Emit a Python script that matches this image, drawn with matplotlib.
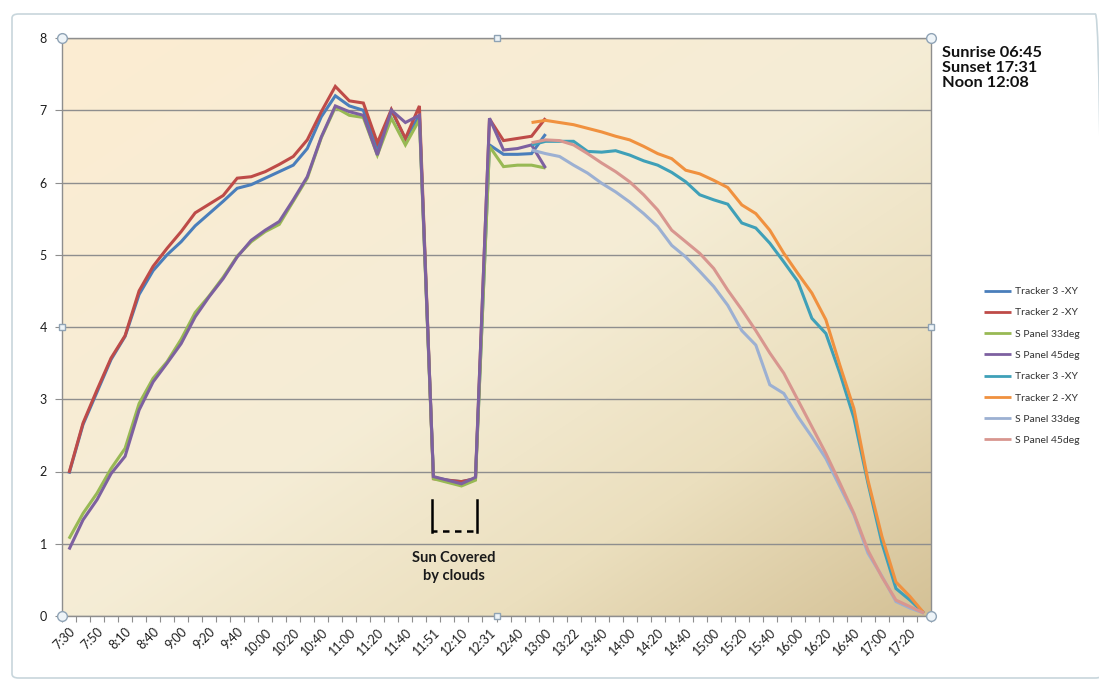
import numpy as np
import matplotlib
matplotlib.use("Agg")
import matplotlib.pyplot as plt
from matplotlib.patches import FancyBboxPatch

plt.rcParams['font.family'] = ['Lato', 'DejaVu Sans']

# Sample times (one column per reading)
times = ["7:30", "7:40", "7:50", "8:00", "8:10", "8:30", "8:40", "8:50", "9:00", "9:10",
         "9:20", "9:30", "9:40", "9:50", "10:00", "10:10", "10:20", "10:30", "10:40", "10:50",
         "11:00", "11:10", "11:20", "11:30", "11:40", "11:45", "11:51", "12:00", "12:10", "12:20",
         "12:31", "12:35", "12:40", "12:50", "13:00", "13:10", "13:22", "13:30", "13:40", "13:50",
         "14:00", "14:10", "14:20", "14:30", "14:40", "14:50", "15:00", "15:10", "15:20", "15:30",
         "15:40", "15:50", "16:00", "16:10", "16:20", "16:30", "16:40", "16:50", "17:00", "17:10",
         "17:20", "17:30"]

# Morning run (7:30 - 13:00)
tracker3_am = [1.97, 2.65, 3.10, 3.55, 3.87, 4.45, 4.78, 5.00, 5.18, 5.40,
               5.57, 5.74, 5.92, 5.97, 6.06, 6.15, 6.24, 6.47, 6.91, 7.20,
               7.06, 7.00, 6.45, 7.00, 6.60, 6.93, 1.92, 1.88, 1.86, 1.90,
               6.52, 6.39, 6.39, 6.40, 6.67]
tracker2_am = [1.98, 2.67, 3.13, 3.57, 3.88, 4.50, 4.84, 5.09, 5.32, 5.58,
               5.70, 5.82, 6.06, 6.08, 6.15, 6.25, 6.36, 6.59, 6.98, 7.33,
               7.13, 7.10, 6.55, 7.01, 6.61, 7.06, 1.90, 1.88, 1.86, 1.90,
               6.88, 6.58, 6.61, 6.64, 6.89]
panel33_am = [1.07, 1.42, 1.70, 2.04, 2.32, 2.94, 3.29, 3.52, 3.83, 4.20,
              4.43, 4.69, 4.98, 5.18, 5.32, 5.42, 5.74, 6.06, 6.62, 7.04,
              6.93, 6.90, 6.38, 6.89, 6.52, 6.87, 1.90, 1.85, 1.80, 1.88,
              6.50, 6.22, 6.24, 6.24, 6.20]
panel45_am = [0.92, 1.33, 1.61, 1.97, 2.21, 2.85, 3.24, 3.50, 3.77, 4.14,
              4.42, 4.67, 4.97, 5.20, 5.34, 5.46, 5.76, 6.08, 6.63, 7.06,
              6.98, 6.93, 6.38, 7.00, 6.83, 6.93, 1.93, 1.88, 1.83, 1.92,
              6.89, 6.45, 6.47, 6.52, 6.20]

# Afternoon run (12:50 - 17:30)
tracker3_pm = [6.52, 6.57, 6.57, 6.57, 6.43, 6.42, 6.44, 6.38, 6.30, 6.24,
               6.14, 6.01, 5.83, 5.76, 5.70, 5.44, 5.37, 5.16, 4.90, 4.63,
               4.12, 3.91, 3.36, 2.74, 1.84, 1.01, 0.38, 0.22, 0.04]
tracker2_pm = [6.83, 6.86, 6.83, 6.80, 6.75, 6.70, 6.64, 6.59, 6.50, 6.40,
               6.33, 6.17, 6.12, 6.03, 5.93, 5.69, 5.57, 5.34, 5.02, 4.74,
               4.47, 4.10, 3.47, 2.87, 1.88, 1.10, 0.47, 0.27, 0.04]
panel33_pm = [6.45, 6.40, 6.36, 6.24, 6.13, 5.99, 5.87, 5.73, 5.57, 5.39,
              5.13, 4.97, 4.77, 4.56, 4.30, 3.95, 3.75, 3.20, 3.08, 2.76,
              2.48, 2.18, 1.79, 1.40, 0.87, 0.55, 0.20, 0.11, 0.04]
panel45_pm = [6.55, 6.59, 6.58, 6.52, 6.40, 6.27, 6.15, 6.01, 5.83, 5.62,
              5.34, 5.18, 5.02, 4.81, 4.51, 4.24, 3.95, 3.64, 3.36, 2.99,
              2.62, 2.25, 1.84, 1.42, 0.91, 0.54, 0.22, 0.13, 0.04]

series_names = ["Tracker 3 -XY", "Tracker 2 -XY", "S Panel 33deg", "S Panel 45deg",
                "Tracker 3 -XY", "Tracker 2 -XY", "S Panel 33deg", "S Panel 45deg"]
series_colors = ["#4A7EBB", "#BE4B48", "#98B954", "#7D60A0",
                 "#3FA0B8", "#F0913F", "#9CB0D2", "#D8968F"]

# readings taken while the sun was behind clouds
cloud_first, cloud_last = "11:51", "12:20"

n = len(times)


def pad(vals, start):
    arr = np.full(n, np.nan)
    arr[start:start + len(vals)] = vals
    return arr


pm_start = times.index("12:50")
series = [pad(tracker3_am, 0), pad(tracker2_am, 0), pad(panel33_am, 0), pad(panel45_am, 0),
          pad(tracker3_pm, pm_start), pad(tracker2_pm, pm_start),
          pad(panel33_pm, pm_start), pad(panel45_pm, pm_start)]

fig = plt.figure(figsize=(10.99, 6.80), dpi=100)
fig.patch.set_facecolor("white")

# chart-area frame
frame = FancyBboxPatch((12 / 1099, 2 / 680), 1090 / 1099, 664 / 680,
                       boxstyle="round,pad=0,rounding_size=0.006",
                       transform=fig.transFigure, facecolor="none",
                       edgecolor="#C8D6DC", linewidth=1.2)
fig.patches.append(frame)

ax = fig.add_axes([62 / 1099, 1 - 616 / 680, 869 / 1099, 578 / 680])

# diagonal gradient fill of the plot area
gx, gy = np.meshgrid(np.linspace(0, 1, 400), np.linspace(0, 1, 260))
t = (gx + (1 - gy)) / 2
stops_t = [0.0, 0.5, 0.75, 1.0]
stops_c = np.array([[252, 236, 210], [245, 237, 214], [235, 223, 190], [212, 193, 150]]) / 255
img = np.stack([np.interp(t, stops_t, stops_c[:, k]) for k in range(3)], axis=-1)
ax.imshow(img, extent=(0, 1, 0, 1), transform=ax.transAxes, origin="lower",
          aspect="auto", zorder=0, interpolation="bilinear")

x = np.arange(n)
for vals, name, col in zip(series, series_names, series_colors):
    ax.plot(x, vals, color=col, lw=2.2, label=name, zorder=3,
            solid_joinstyle="miter", solid_capstyle="butt")

ax.set_xlim(-0.5, n - 0.5)
ax.set_ylim(0, 8)
ax.set_yticks(range(0, 9))
ax.yaxis.grid(True, color="#8E8E8E", lw=1.0, zorder=1)
ax.set_axisbelow(True)

# category boundaries carry the tick marks, every other reading is labelled
ax.set_xticks(np.arange(-0.5, n, 1.0))
ax.set_xticklabels([])
ax.set_xticks(np.arange(0, n - 1, 2), minor=True)
ax.set_xticklabels([times[i] for i in range(0, n - 1, 2)], minor=True,
                   rotation=45, ha="right", va="top", rotation_mode="anchor",
                   fontsize=9, color="#1E1E1E")
ax.tick_params(axis="x", which="major", length=4, color="#8E8E8E", direction="out")
ax.tick_params(axis="x", which="minor", length=0, pad=7)
ax.tick_params(axis="y", length=5, color="#8E8E8E", pad=6, labelsize=9,
               labelcolor="#1E1E1E")

for s in ax.spines.values():
    s.set_color("#8E8E8E")
    s.set_linewidth(1.0)

# selection handles on the plot-area border
for (hx, hy) in [(0, 0), (0, 1), (1, 0), (1, 1)]:
    ax.plot(hx, hy, marker="o", ms=7, mfc="#EEF4F8", mec="#8FA3B5", mew=1,
            transform=ax.transAxes, clip_on=False, zorder=6)
for (hx, hy) in [(0.5, 0), (0.5, 1), (0, 0.5), (1, 0.5)]:
    ax.plot(hx, hy, marker="s", ms=5, mfc="#EEF4F8", mec="#8FA3B5", mew=1,
            transform=ax.transAxes, clip_on=False, zorder=6)

# bracket marking the cloud-covered readings
c0 = times.index(cloud_first) - 0.13
c1 = times.index(cloud_last) + 0.09
ax.plot([c0, c0], [1.16, 1.61], color="black", lw=1.8, zorder=4)
ax.plot([c1, c1], [1.16, 1.61], color="black", lw=1.8, zorder=4)
ax.plot([c0, c1], [1.18, 1.18], color="black", lw=1.8, ls=(0.6, (2.6, 2.2)), zorder=4)
ax.text((c0 + c1) / 2, 0.68, "Sun Covered\nby clouds", ha="center", va="center",
        fontsize=10.5, fontweight="bold", color="#1A1A1A", linespacing=1.35, zorder=4)

fig.text(942 / 1099, 1 - 68 / 680, "Sunrise 06:45\nSunset 17:31\nNoon 12:08",
         ha="left", va="center", fontsize=11.8, fontweight="bold", color="#111111",
         linespacing=1.1)

leg = fig.legend(loc="center left", bbox_to_anchor=(984 / 1099, 1 - 366 / 680),
                 frameon=False, fontsize=7.5, handlelength=2.6, handletextpad=0.35,
                 labelspacing=1.15, borderpad=0, borderaxespad=0)
for txt in leg.get_texts():
    txt.set_color("#333333")
for ln in leg.get_lines():
    ln.set_linewidth(2.0)

fig.savefig("out.png", dpi=100)
